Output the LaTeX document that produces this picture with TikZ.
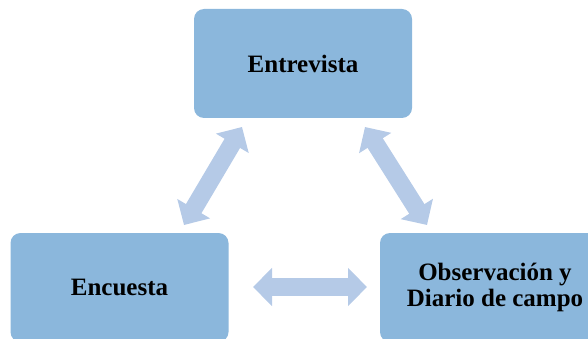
\documentclass[tikz,border=0pt]{standalone}
\usepackage{fontspec}
\setmainfont{Liberation Serif}
\usetikzlibrary{arrows.meta}
\definecolor{boxc}{RGB}{139,183,220}
\definecolor{arrc}{RGB}{181,202,231}
\tikzset{
  box/.style={fill=boxc, draw=none, rounded corners=10pt, minimum width=218pt, minimum height=109pt,
    inner sep=0pt, align=center, font=\fontsize{25}{26}\selectfont\bfseries},
  dblarrow/.style={draw=arrc, line width=18pt,
    {Triangle[length=19pt,width=37pt]}-{Triangle[length=19pt,width=37pt]}}
}
\begin{document}
\begin{tikzpicture}[x=1pt,y=-1pt]
\useasboundingbox (0,0) rectangle (588,339);
\node[box] (ent) at (303,63.5) {Entrevista};
\node[box] (enc) at (119.5,287.5) {Encuesta};
\node[box, minimum width=230pt] (obs) at (495,287.5) {Observación y\\Diario de campo};
\coordinate (a1) at (184,225);
\coordinate (a2) at (242,127);
\coordinate (b1) at (365,127);
\coordinate (b2) at (427,225);
\coordinate (c1) at (253,287);
\coordinate (c2) at (367,287);
\draw[dblarrow] (a1) -- (a2);
\draw[dblarrow] (b1) -- (b2);
\draw[dblarrow] (c1) -- (c2);
\end{tikzpicture}
\end{document}
